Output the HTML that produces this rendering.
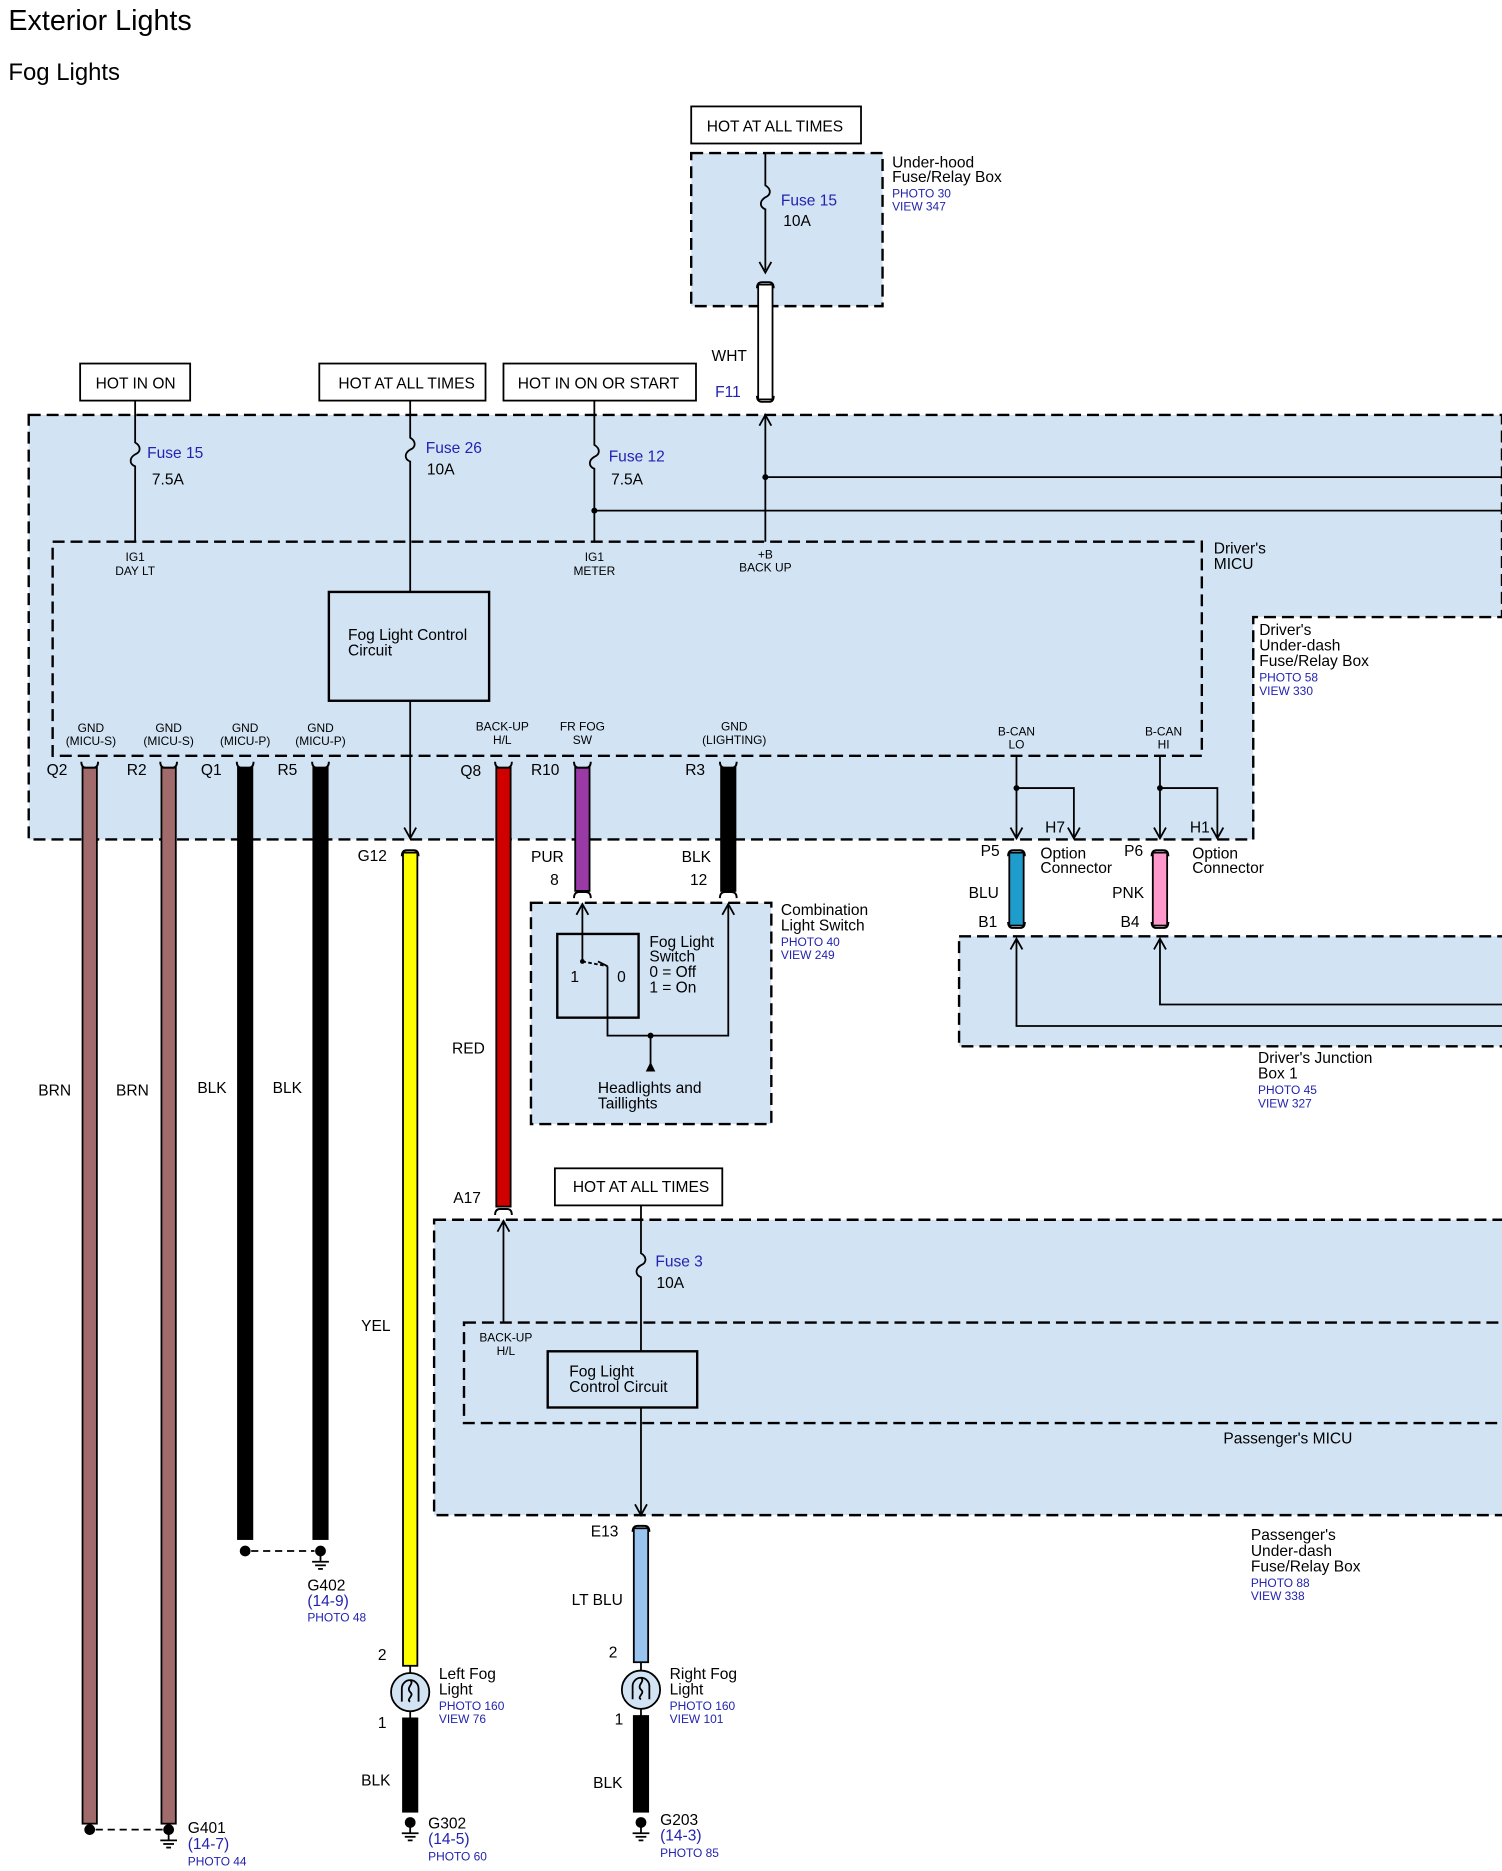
<!DOCTYPE html>
<html><head><meta charset="utf-8"><style>
html,body{margin:0;padding:0;background:#fff;}
svg{display:block;}
text{font-family:"Liberation Sans",sans-serif;fill:#000;}
.b{fill:#2323b0;}
</style></head><body>
<svg width="1502" height="1871" viewBox="0 0 1256 1564.6" xmlns="http://www.w3.org/2000/svg">
<defs>
<g id="capT"><path d="M-7 5 Q-7 0 -3 0 L3 0 Q7 0 7 5" fill="none" stroke="#000" stroke-width="1.6"/></g>
<g id="capB"><path d="M-7 -5 Q-7 0 -3 0 L3 0 Q7 0 7 -5" fill="none" stroke="#000" stroke-width="1.6"/></g>
<g id="gnd"><line x1="0" y1="0" x2="0" y2="5" stroke="#000" stroke-width="1.5"/><line x1="-7" y1="5" x2="7" y2="5" stroke="#000" stroke-width="1.5"/><line x1="-4.5" y1="8" x2="4.5" y2="8" stroke="#000" stroke-width="1.5"/><line x1="-2" y1="11" x2="2" y2="11" stroke="#000" stroke-width="1.5"/></g>
</defs>
<g font-size="13">
<text x="7" y="25" font-size="24">Exterior Lights</text>
<text x="7" y="67" font-size="20">Fog Lights</text>

<!-- Under-hood box -->
<rect x="578" y="89" width="142" height="31" fill="#fff" stroke="#000" stroke-width="1.5"/>
<text x="591" y="110">HOT AT ALL TIMES</text>
<rect x="578" y="128" width="160" height="128" fill="#d2e3f4" stroke="#000" stroke-width="2" stroke-dasharray="10,5"/>
<path d="M640 128 V155 c5 3 5 8 0 10 c-5 3 -5 8 0 10 V226" fill="none" stroke="#000" stroke-width="1.5"/>
<path d="M635 219 L640 228 L645 219" fill="none" stroke="#000" stroke-width="1.5"/>
<text x="653" y="172" class="b">Fuse 15</text><text x="655" y="189">10A</text>
<text x="746" y="140">Under-hood</text><text x="746" y="152">Fuse/Relay Box</text>
<text x="746" y="165" font-size="10" class="b">PHOTO 30</text><text x="746" y="176" font-size="10" class="b">VIEW 347</text>

<!-- WHT wire -->
<rect x="634" y="238" width="12" height="96" fill="#fff" stroke="#000" stroke-width="1.5"/>
<use href="#capT" x="640" y="236"/>
<use href="#capB" x="640" y="336"/>
<text x="595" y="302">WHT</text><text x="598" y="332" class="b">F11</text>

<!-- Driver's main box -->
<path d="M24 347 H1256 V516 H1048 V702 H24 Z" fill="#d2e3f4" stroke="#000" stroke-width="2" stroke-dasharray="10,5"/>
<rect x="44" y="453" width="961" height="179" fill="none" stroke="#000" stroke-width="2" stroke-dasharray="10,5"/>
<rect x="67" y="304" width="92" height="31" fill="#fff" stroke="#000" stroke-width="1.5"/><text x="80" y="325">HOT IN ON</text>
<rect x="267" y="304" width="139" height="31" fill="#fff" stroke="#000" stroke-width="1.5"/><text x="283" y="325">HOT AT ALL TIMES</text>
<rect x="421" y="304" width="161" height="31" fill="#fff" stroke="#000" stroke-width="1.5"/><text x="433" y="325">HOT IN ON OR START</text>

<g fill="none" stroke="#000" stroke-width="1.5">
<path d="M113 335 V370 c5 3 5 8 0 10 c-5 3 -5 8 0 10 V453"/>
<path d="M343 335 V366 c5 3 5 8 0 10 c-5 3 -5 8 0 10 V495"/>
<path d="M497 335 V372 c5 3 5 8 0 10 c-5 3 -5 8 0 10 V453"/>
<path d="M497 427 H1256"/>
<path d="M640 347 V453"/><path d="M640 399 H1256"/>
<path d="M635 356 L640 347 L645 356"/>
<path d="M343 586 V700"/><path d="M338 692 L343 701 L348 692"/>
<path d="M850 632 V700"/><path d="M845 692 L850 701 L855 692"/>
<path d="M850 659 H898 V700"/><path d="M893 692 L898 701 L903 692"/>
<path d="M970 632 V700"/><path d="M965 692 L970 701 L975 692"/>
<path d="M970 659 H1018 V700"/><path d="M1013 692 L1018 701 L1023 692"/>
</g>
<circle cx="497" cy="427" r="2.5"/><circle cx="640" cy="399" r="2.5"/><circle cx="850" cy="659" r="2.5"/><circle cx="970" cy="659" r="2.5"/>
<text x="123" y="383" class="b">Fuse 15</text><text x="127" y="405">7.5A</text>
<text x="356" y="379" class="b">Fuse 26</text><text x="357" y="397">10A</text>
<text x="509" y="386" class="b">Fuse 12</text><text x="511" y="405">7.5A</text>
<g font-size="10" text-anchor="middle">
<text x="113" y="469">IG1</text><text x="113" y="481">DAY LT</text>
<text x="497" y="469">IG1</text><text x="497" y="481">METER</text>
<text x="640" y="467">+B</text><text x="640" y="478">BACK UP</text>
<text x="76" y="612">GND</text><text x="76" y="623">(MICU-S)</text>
<text x="141" y="612">GND</text><text x="141" y="623">(MICU-S)</text>
<text x="205" y="612">GND</text><text x="205" y="623">(MICU-P)</text>
<text x="268" y="612">GND</text><text x="268" y="623">(MICU-P)</text>
<text x="420" y="611">BACK-UP</text><text x="420" y="622">H/L</text>
<text x="487" y="611">FR FOG</text><text x="487" y="622">SW</text>
<text x="614" y="611">GND</text><text x="614" y="622">(LIGHTING)</text>
<text x="850" y="615">B-CAN</text><text x="850" y="626">LO</text>
<text x="973" y="615">B-CAN</text><text x="973" y="626">HI</text>
</g>
<text x="1015" y="463">Driver's</text><text x="1015" y="476">MICU</text>
<rect x="275" y="495" width="134" height="91" fill="none" stroke="#000" stroke-width="2"/>
<text x="291" y="535">Fog Light Control</text><text x="291" y="548">Circuit</text>
<text x="1053" y="531">Driver's</text><text x="1053" y="544">Under-dash</text><text x="1053" y="557">Fuse/Relay Box</text>
<text x="1053" y="570" font-size="10" class="b">PHOTO 58</text><text x="1053" y="581" font-size="10" class="b">VIEW 330</text>

<g class="b"><text x="39" y="648">Q2</text><text x="106" y="648">R2</text><text x="168" y="648">Q1</text><text x="232" y="648">R5</text>
<text x="385" y="649">Q8</text><text x="444" y="648">R10</text><text x="573" y="648">R3</text>
<text x="299" y="720">G12</text><text x="874" y="696">H7</text><text x="995" y="696">H1</text>
<text x="820" y="716">P5</text><text x="940" y="716">P6</text>
<text x="379" y="1006">A17</text><text x="494" y="1285">E13</text></g>

<!-- wires -->
<g stroke="#000" stroke-width="1.5">
<rect x="69" y="642" width="12" height="883" fill="#a26b6b"/>
<rect x="135" y="642" width="12" height="883" fill="#a26b6b"/>
<rect x="199" y="642" width="12" height="645" fill="#000"/>
<rect x="262" y="642" width="12" height="645" fill="#000"/>
<rect x="337" y="713" width="12" height="680" fill="#ffff00"/>
<rect x="415" y="642" width="12" height="367" fill="#d00000"/>
<rect x="481" y="642" width="12" height="103" fill="#9a3aa6"/>
<rect x="603" y="642" width="12" height="103" fill="#000"/>
<rect x="844" y="713" width="12" height="61" fill="#1e9ccc"/>
<rect x="964" y="713" width="12" height="61" fill="#ff99cc"/>
<rect x="530" y="1278" width="12" height="112" fill="#99c4f0"/>
<rect x="337" y="1437" width="12" height="78" fill="#000"/>
<rect x="530" y="1435" width="12" height="80" fill="#000"/>
</g>
<g>
<use href="#capB" x="75" y="642"/><use href="#capB" x="141" y="642"/><use href="#capB" x="205" y="642"/><use href="#capB" x="268" y="642"/>
<use href="#capB" x="421" y="642"/><use href="#capB" x="487" y="642"/><use href="#capB" x="609" y="642"/>
<use href="#capT" x="343" y="711"/><use href="#capT" x="850" y="711"/><use href="#capT" x="970" y="711"/>
<use href="#capT" x="487" y="746"/><use href="#capT" x="609" y="746"/>
<use href="#capB" x="850" y="776"/><use href="#capB" x="970" y="776"/>
<use href="#capT" x="421" y="1011"/><use href="#capT" x="536" y="1276"/>
</g>
<text x="32" y="916">BRN</text><text x="97" y="916">BRN</text><text x="165" y="914">BLK</text><text x="228" y="914">BLK</text>
<text x="302" y="1113">YEL</text><text x="378" y="881">RED</text>
<text x="444" y="721">PUR</text><text x="460" y="740">8</text><text x="570" y="721">BLK</text><text x="577" y="740">12</text>
<text x="810" y="751">BLU</text><text x="818" y="775">B1</text><text x="930" y="751">PNK</text><text x="937" y="775">B4</text>
<text x="870" y="718">Option</text><text x="870" y="730">Connector</text>
<text x="997" y="718">Option</text><text x="997" y="730">Connector</text>

<!-- Combination switch box -->
<rect x="444" y="755" width="201" height="185" fill="#d2e3f4" stroke="#000" stroke-width="2" stroke-dasharray="10,5"/>
<rect x="466" y="781" width="68" height="70" fill="none" stroke="#000" stroke-width="2"/>
<g fill="none" stroke="#000" stroke-width="1.5">
<path d="M487 757 V804"/><path d="M482 765 L487 756 L492 765"/>
<path d="M487 804 L508 808" stroke-dasharray="3,2"/>
<path d="M508 808 L500 804"/>
<path d="M508 808 V866 H609 V757"/><path d="M604 765 L609 756 L614 765"/>
<path d="M544 866 V893"/>
</g>
<path d="M540 896 L544 888 L548 896 Z"/>
<circle cx="487" cy="804" r="2"/><circle cx="544" cy="866" r="2.5"/>
<text x="477" y="821">1</text><text x="516" y="821">0</text>
<text x="543" y="792">Fog Light</text><text x="543" y="804">Switch</text><text x="543" y="817">0 = Off</text><text x="543" y="830">1 = On</text>
<text x="500" y="914">Headlights and</text><text x="500" y="927">Taillights</text>
<text x="653" y="765">Combination</text><text x="653" y="778">Light Switch</text>
<text x="653" y="791" font-size="10" class="b">PHOTO 40</text><text x="653" y="802" font-size="10" class="b">VIEW 249</text>

<!-- Driver's junction box -->
<rect x="802" y="783" width="470" height="92" fill="#d2e3f4" stroke="#000" stroke-width="2" stroke-dasharray="10,5"/>
<g fill="none" stroke="#000" stroke-width="1.5">
<path d="M850 786 V858 H1256"/><path d="M845 794 L850 785 L855 794"/>
<path d="M970 786 V840 H1256"/><path d="M965 794 L970 785 L975 794"/>
</g>
<text x="1052" y="889">Driver's Junction</text><text x="1052" y="902">Box 1</text>
<text x="1052" y="915" font-size="10" class="b">PHOTO 45</text><text x="1052" y="926" font-size="10" class="b">VIEW 327</text>

<!-- Passenger box -->
<rect x="464" y="977" width="140" height="31" fill="#fff" stroke="#000" stroke-width="1.5"/><text x="479" y="997">HOT AT ALL TIMES</text>
<rect x="363" y="1020" width="910" height="247" fill="#d2e3f4" stroke="#000" stroke-width="2" stroke-dasharray="10,5"/>
<rect x="388" y="1106" width="885" height="84" fill="none" stroke="#000" stroke-width="2" stroke-dasharray="10,5"/>
<g fill="none" stroke="#000" stroke-width="1.5">
<path d="M536 1008 V1048 c5 3 5 8 0 10 c-5 3 -5 8 0 10 V1130"/>
<path d="M421 1022 V1106"/><path d="M416 1030 L421 1021 L426 1030"/>
<path d="M536 1177 V1266"/><path d="M531 1258 L536 1267 L541 1258"/>
</g>
<text x="548" y="1059" class="b">Fuse 3</text><text x="549" y="1077">10A</text>
<text x="423" y="1122" font-size="10" text-anchor="middle">BACK-UP</text><text x="423" y="1133" font-size="10" text-anchor="middle">H/L</text>
<rect x="458" y="1130" width="125" height="47" fill="none" stroke="#000" stroke-width="2"/>
<text x="476" y="1151">Fog Light</text><text x="476" y="1164">Control Circuit</text>
<text x="1023" y="1207">Passenger's MICU</text>
<text x="1046" y="1288">Passenger's</text><text x="1046" y="1301">Under-dash</text><text x="1046" y="1314">Fuse/Relay Box</text>
<text x="1046" y="1327" font-size="10" class="b">PHOTO 88</text><text x="1046" y="1338" font-size="10" class="b">VIEW 338</text>
<text x="478" y="1342">LT BLU</text>

<!-- Fog lights -->
<g stroke="#000" stroke-width="1.5" fill="#d2e3f4">
<circle cx="343" cy="1415" r="16"/><circle cx="536" cy="1413" r="16"/>
</g>
<g fill="none" stroke="#000" stroke-width="1.5">
<path d="M343 1393 V1399"/><path d="M343 1431 V1437"/>
<path d="M336 1423 V1412 a7 7 0 0 1 14 0 V1423"/>
<path d="M343 1405 c4 3 -4 6 0 10 c4 3 -4 6 0 8"/>
<path d="M536 1390 V1397"/><path d="M536 1429 V1435"/>
<path d="M529 1421 V1410 a7 7 0 0 1 14 0 V1421"/>
<path d="M536 1403 c4 3 -4 6 0 10 c4 3 -4 6 0 8"/>
</g>
<text x="316" y="1388">2</text><text x="316" y="1445">1</text>
<text x="509" y="1386">2</text><text x="514" y="1442">1</text>
<text x="367" y="1404">Left Fog</text><text x="367" y="1417">Light</text>
<text x="367" y="1430" font-size="10" class="b">PHOTO 160</text><text x="367" y="1441" font-size="10" class="b">VIEW 76</text>
<text x="560" y="1404">Right Fog</text><text x="560" y="1417">Light</text>
<text x="560" y="1430" font-size="10" class="b">PHOTO 160</text><text x="560" y="1441" font-size="10" class="b">VIEW 101</text>
<text x="302" y="1493">BLK</text><text x="496" y="1495">BLK</text>

<!-- grounds -->
<circle cx="343" cy="1524" r="4.5"/><use href="#gnd" x="343" y="1528"/>
<circle cx="536" cy="1524" r="4.5"/><use href="#gnd" x="536" y="1528"/>
<text x="358" y="1529">G302</text><text x="358" y="1542" class="b">(14-5)</text><text x="358" y="1556" font-size="10" class="b">PHOTO 60</text>
<text x="552" y="1526">G203</text><text x="552" y="1539" class="b">(14-3)</text><text x="552" y="1553" font-size="10" class="b">PHOTO 85</text>

<circle cx="75" cy="1530" r="4.5"/><circle cx="141" cy="1530" r="4.5"/>
<line x1="80" y1="1530" x2="136" y2="1530" stroke="#000" stroke-width="1.5" stroke-dasharray="6,4"/>
<use href="#gnd" x="141" y="1534"/>
<text x="157" y="1533">G401</text><text x="157" y="1546" class="b">(14-7)</text><text x="157" y="1560" font-size="10" class="b">PHOTO 44</text>

<circle cx="205" cy="1297" r="4.5"/><circle cx="268" cy="1297" r="4.5"/>
<line x1="210" y1="1297" x2="263" y2="1297" stroke="#000" stroke-width="1.5" stroke-dasharray="6,4"/>
<use href="#gnd" x="268" y="1301"/>
<text x="257" y="1330">G402</text><text x="257" y="1343" class="b">(14-9)</text><text x="257" y="1356" font-size="10" class="b">PHOTO 48</text>
</g>
</svg>
</body></html>
